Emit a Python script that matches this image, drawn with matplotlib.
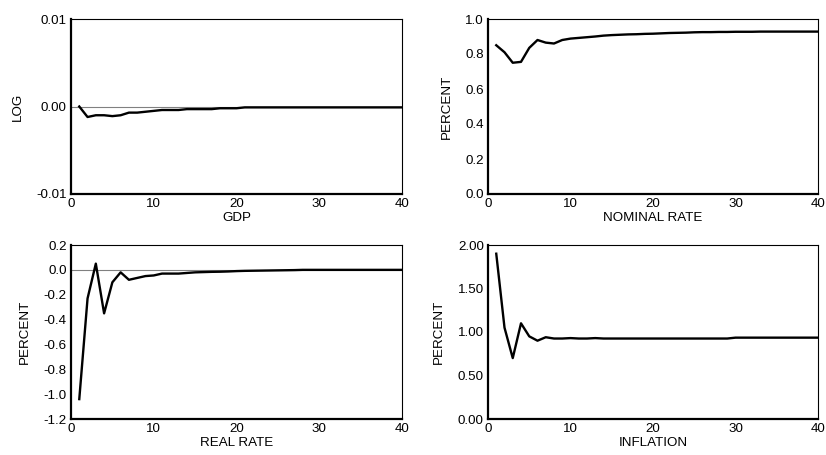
import numpy as np
import matplotlib.pyplot as plt

plt.rcParams['font.family'] = ['Liberation Sans', 'DejaVu Sans']
plt.rcParams['font.size'] = 9.6

# impulse responses, periods 1..40
periods = list(range(1, 41))

gdp = [0.0, -0.0012, -0.001, -0.001, -0.0011, -0.001, -0.0007, -0.0007, -0.0006, -0.0005,
       -0.0004, -0.0004, -0.0004, -0.0003, -0.0003, -0.0003, -0.0003, -0.0002, -0.0002, -0.0002,
       -0.0001, -0.0001, -0.0001, -0.0001, -0.0001, -0.0001, -0.0001, -0.0001, -0.0001, -0.0001,
       -0.0001, -0.0001, -0.0001, -0.0001, -0.0001, -0.0001, -0.0001, -0.0001, -0.0001, -0.0001]

nominal = [0.85, 0.81, 0.75, 0.755, 0.835, 0.88, 0.865, 0.86, 0.88, 0.888,
           0.892, 0.896, 0.9, 0.905, 0.908, 0.91, 0.912, 0.913, 0.915, 0.916,
           0.918, 0.92, 0.921, 0.922, 0.924, 0.925, 0.925, 0.926, 0.926, 0.927,
           0.927, 0.927, 0.928, 0.928, 0.928, 0.928, 0.928, 0.928, 0.928, 0.928]

real = [-1.04, -0.23, 0.05, -0.35, -0.1, -0.02, -0.08, -0.065, -0.05, -0.045,
        -0.03, -0.03, -0.03, -0.025, -0.02, -0.018, -0.016, -0.015, -0.013, -0.01,
        -0.008, -0.007, -0.006, -0.005, -0.004, -0.003, -0.002, 0.0, 0.0, 0.0,
        0.0, 0.0, 0.0, 0.0, 0.0, 0.0, 0.0, 0.0, 0.0, 0.0]

inflation = [1.9, 1.05, 0.7, 1.1, 0.95, 0.9, 0.94, 0.925, 0.925, 0.93,
             0.925, 0.925, 0.93, 0.925, 0.925, 0.925, 0.925, 0.925, 0.925, 0.925,
             0.925, 0.925, 0.925, 0.925, 0.925, 0.925, 0.925, 0.925, 0.925, 0.935,
             0.935, 0.935, 0.935, 0.935, 0.935, 0.935, 0.935, 0.935, 0.935, 0.935]

panels = [
    (gdp, 'GDP', 'LOG', (-0.01, 0.01), [-0.01, 0.0, 0.01], '{:.2f}', True),
    (nominal, 'NOMINAL RATE', 'PERCENT', (0.0, 1.0), np.arange(0, 1.01, 0.2), '{:.1f}', False),
    (real, 'REAL RATE', 'PERCENT', (-1.2, 0.2), np.arange(-1.2, 0.21, 0.2), '{:.1f}', True),
    (inflation, 'INFLATION', 'PERCENT', (0.0, 2.0), np.arange(0, 2.01, 0.5), '{:.2f}', False),
]

W, H = 826, 455
boxes = [(71, 19, 402, 194), (488, 19, 818, 194), (71, 245, 402, 419), (488, 245, 818, 419)]

fig = plt.figure(figsize=(W / 100, H / 100), dpi=100)
for (vals, xl, yl, ylim, yt, fmt, zero), (x0, y0, x1, y1) in zip(panels, boxes):
    ax = fig.add_axes([x0 / W, 1 - y1 / H, (x1 - x0) / W, (y1 - y0) / H])
    if zero:
        ax.axhline(0, color='#808080', lw=0.8, zorder=1)
    ax.plot(periods, vals, color='black', lw=1.7, zorder=2)
    ax.set_xlim(0, 40)
    ax.set_ylim(*ylim)
    ax.set_xticks([0, 10, 20, 30, 40])
    ax.set_yticks(yt)
    ax.set_yticklabels([fmt.format(0.0) if abs(v) < 1e-9 else fmt.format(v) for v in yt])
    ax.tick_params(length=0, pad=3)
    ax.set_xlabel(xl, labelpad=1)
    ax.set_ylabel(yl, labelpad=9)
    for s in ['left', 'bottom']:
        ax.spines[s].set_linewidth(1.6)
    for s in ['top', 'right']:
        ax.spines[s].set_linewidth(0.8)

plt.savefig('out.png', dpi=100)
